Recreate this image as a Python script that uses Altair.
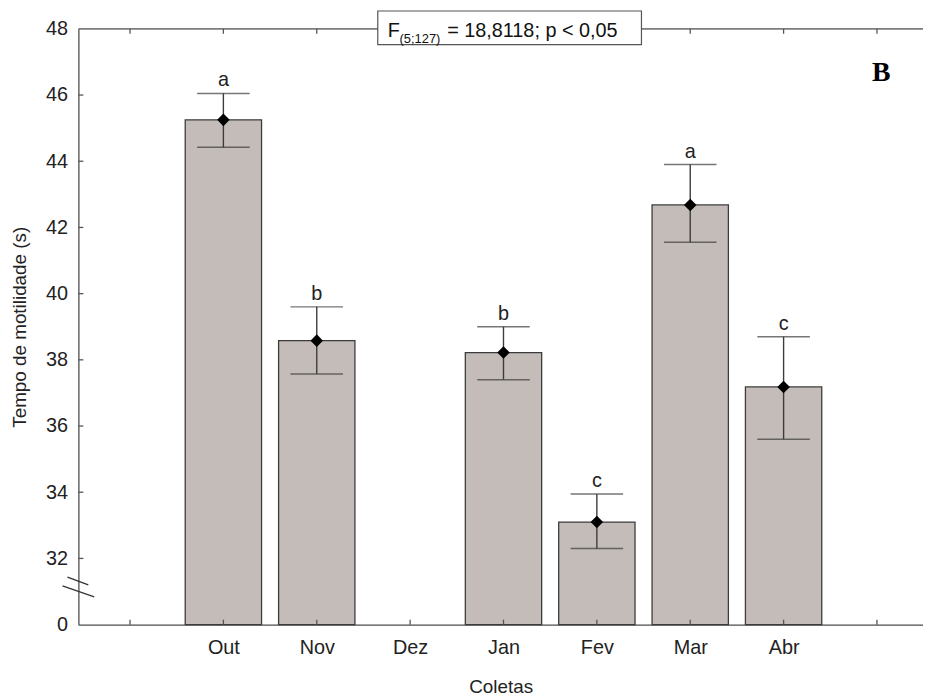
import json
import altair as alt
import pandas as pd

# ---- data ----
tick_labels = ["", "Out", "Nov", "Dez", "Jan", "Fev", "Mar", "Abr", ""]
months = ["Out", "Nov", "Jan", "Fev", "Mar", "Abr"]
means = [45.25, 38.58, 38.22, 33.10, 42.68, 37.18]
upper = [46.05, 39.60, 39.00, 33.95, 43.90, 38.70]
lower = [44.42, 37.57, 37.40, 32.30, 41.55, 35.60]
letters = ["a", "b", "b", "c", "a", "c"]
y_ticks = [30, 32, 34, 36, 38, 40, 42, 44, 46, 48]
y_base = 30  # position of the broken-axis "0"

W, H = 852, 601
FONT = "Liberation Sans"
AX = "#555555"

df = pd.DataFrame({
    "mes": months,
    "pos": [tick_labels.index(m) + 1 for m in months],
    "media": means,
    "sup": upper,
    "inf": lower,
    "letra": letters,
})
df["base"] = y_base

label_expr = json.dumps(tick_labels) + "[datum.value - 1]"

x_scale = alt.Scale(domain=[0.5, 9.44], nice=False, zero=False)
y_scale = alt.Scale(domain=[30, 48], nice=False, zero=False)

x_enc = alt.X("pos:Q", scale=x_scale, axis=alt.Axis(
    values=list(range(1, len(tick_labels) + 1)), labelExpr=label_expr,
    ticks=False, tickSize=0, grid=False, domainColor=AX, domainWidth=1.3,
    labelFont=FONT, labelFontSize=20, labelColor="#222", labelPadding=13,
    title="Coletas", titleFont=FONT, titleFontSize=19, titleFontWeight="normal",
    titleColor="#222", titlePadding=20))
y_enc = alt.Y("media:Q", scale=y_scale, axis=alt.Axis(
    values=y_ticks, labelExpr="datum.value == 30 ? '0' : datum.value",
    ticks=False, tickSize=0, grid=False, domainColor=AX, domainWidth=1.3,
    labelFont=FONT, labelFontSize=20, labelColor="#222", labelPadding=11,
    title="Tempo de motilidade (s)", titleFont=FONT, titleFontSize=19,
    titleFontWeight="normal", titleColor="#222", titlePadding=16))

base = alt.Chart(df)

bars = base.mark_bar(size=77, fill="#c3bcb8", stroke="#3c3c3c", strokeWidth=1.3).encode(
    x=x_enc, y=y_enc, y2="base:Q")

err = base.mark_rule(color="#3c3c3c", strokeWidth=1.4).encode(
    x="pos:Q", y="inf:Q", y2="sup:Q")
cap_hi = base.mark_tick(orient="horizontal", size=53, thickness=1.5, color="#3c3c3c").encode(
    x="pos:Q", y="sup:Q")
cap_lo = base.mark_tick(orient="horizontal", size=53, thickness=1.5, color="#3c3c3c").encode(
    x="pos:Q", y="inf:Q")
pts = base.mark_point(shape="diamond", filled=True, size=160, color="#000000", opacity=1).encode(
    x="pos:Q", y="media:Q")
txt = base.mark_text(font=FONT, fontSize=20, color="#222", baseline="bottom", dy=-3).encode(
    x="pos:Q", y="sup:Q", text="letra:N")

# inward ticks
yt = pd.DataFrame({"v": y_ticks[1:-1]})
left_ticks = alt.Chart(yt).mark_rule(color=AX, strokeWidth=1.3).encode(
    y=alt.Y("v:Q", scale=y_scale), x=alt.value(0), x2=alt.value(5))
xt = pd.DataFrame({"p": list(range(1, len(tick_labels) + 1))})
bot_ticks = alt.Chart(xt).mark_rule(color=AX, strokeWidth=1.3).encode(
    x=alt.X("p:Q", scale=x_scale), y=alt.value(H), y2=alt.value(H - 5))
top_ticks = alt.Chart(xt).mark_rule(color=AX, strokeWidth=1.3).encode(
    x=alt.X("p:Q", scale=x_scale), y=alt.value(0), y2=alt.value(5))

one = pd.DataFrame({"k": [0]})
top_line = alt.Chart(one).mark_rule(color=AX, strokeWidth=1.3).encode(
    x=alt.value(0), x2=alt.value(W), y=alt.value(0))

# axis break marks
brk1 = alt.Chart(one).mark_rule(color="#333", strokeWidth=1.3).encode(
    x=alt.value(-11), x2=alt.value(10), y=alt.value(553), y2=alt.value(561))
brk2 = alt.Chart(one).mark_rule(color="#333", strokeWidth=1.3).encode(
    x=alt.value(-16), x2=alt.value(16), y=alt.value(562), y2=alt.value(573))

# annotation box
box = alt.Chart(one).mark_rect(fill="white", stroke="#555", strokeWidth=1.2).encode(
    x=alt.value(302), x2=alt.value(568), y=alt.value(-18), y2=alt.value(16))
f_txt = alt.Chart(one).mark_text(font=FONT, fontSize=20, color="#111", align="left",
                                 baseline="alphabetic", text="F").encode(
    x=alt.value(312), y=alt.value(8))
sub_txt = alt.Chart(one).mark_text(font=FONT, fontSize=13, color="#111", align="left",
                                   baseline="alphabetic", text="(5;127)").encode(
    x=alt.value(324), y=alt.value(14))
main_txt = alt.Chart(one).mark_text(font=FONT, fontSize=20, color="#111", align="left",
                                    baseline="alphabetic", text="= 18,8118; p < 0,05").encode(
    x=alt.value(372), y=alt.value(8))
b_txt = alt.Chart(one).mark_text(font="Liberation Serif", fontSize=28, fontWeight="bold",
                                 color="#000", align="center", baseline="middle", text="B").encode(
    x=alt.value(810), y=alt.value(45))

chart = alt.layer(
    bars, err, cap_hi, cap_lo, pts, txt,
    left_ticks, bot_ticks, top_ticks, top_line, brk1, brk2,
    box, f_txt, sub_txt, main_txt, b_txt,
).properties(
    width=W, height=H,
    autosize=alt.AutoSizeParams(type="none"),
    padding={"left": 71, "top": 18, "right": 0, "bottom": 72},
).configure_view(stroke=None).configure(background="white")

chart.save("out.html", embed_options={"renderer": "svg", "actions": False})
